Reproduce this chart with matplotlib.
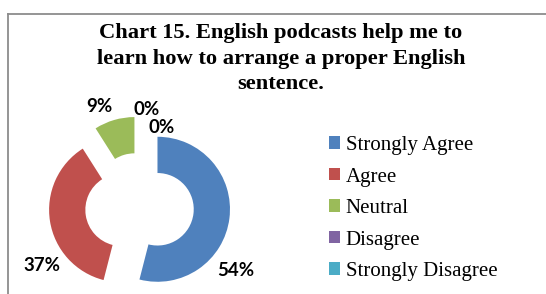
import matplotlib.pyplot as plt
from matplotlib.lines import Line2D
from matplotlib.patches import Patch

labels = ['Strongly Agree', 'Agree', 'Neutral', 'Disagree', 'Strongly Disagree']
values = [54, 37, 9, 0, 0]
colors = ['#4F81BD', '#C0504D', '#9BBB59', '#8064A2', '#4BACC6']
# where the percent labels sit, relative to the pie centre (radius units)
label_xy = [(1.33, -0.87), (-1.34, -0.81), (-0.56, 1.38), (0.10, 1.34), (0.30, 1.10)]

W, H = 546, 294
fig = plt.figure(figsize=(W / 100, H / 100), dpi=100)

# frame: only top and left edges visible in the crop
fig.add_artist(Line2D([8 / W, 1], [1 - 14 / H, 1 - 14 / H], color='#8c8c8c', lw=1.3))
fig.add_artist(Line2D([8 / W, 8 / W], [0, 1 - 14 / H], color='#8c8c8c', lw=1.3))

cx, cy, R = 139.5, 207, 72.5
half = 1.6 * R
ax = fig.add_axes([(cx - half) / W, (H - cy - half) / H, 2 * half / W, 2 * half / H])
ax.pie(values, colors=colors, startangle=90, counterclock=False,
       explode=[0.25] * len(values), radius=1,
       wedgeprops=dict(width=0.5, linewidth=0))
ax.set_xlim(-1.6, 1.6)
ax.set_ylim(-1.6, 1.6)
ax.set_aspect('equal')
ax.axis('off')

for v, (x, y) in zip(values, label_xy):
    ax.text(x, y, f'{v}%', ha='center', va='center', fontsize=13.5,
            fontweight='bold', family='Lato', color='black', clip_on=False)

fig.text(281 / W, 1 - 23 / H,
         'Chart 15. English podcasts help me to\nlearn how to arrange a proper English\nsentence.',
         ha='center', va='top', fontsize=16.2, fontweight='bold',
         family='Liberation Serif', linespacing=1.38)

handles = [Patch(facecolor=c, edgecolor='none') for c in colors]
fig.legend(handles, labels, loc='upper left', bbox_to_anchor=(329 / W, 1 - 136 / H),
           frameon=False, prop={'family': 'Liberation Serif', 'size': 15},
           handlelength=0.55, handleheight=0.55, handletextpad=0.25,
           labelspacing=0.6, borderaxespad=0, borderpad=0)

fig.savefig('out.png', dpi=100)
